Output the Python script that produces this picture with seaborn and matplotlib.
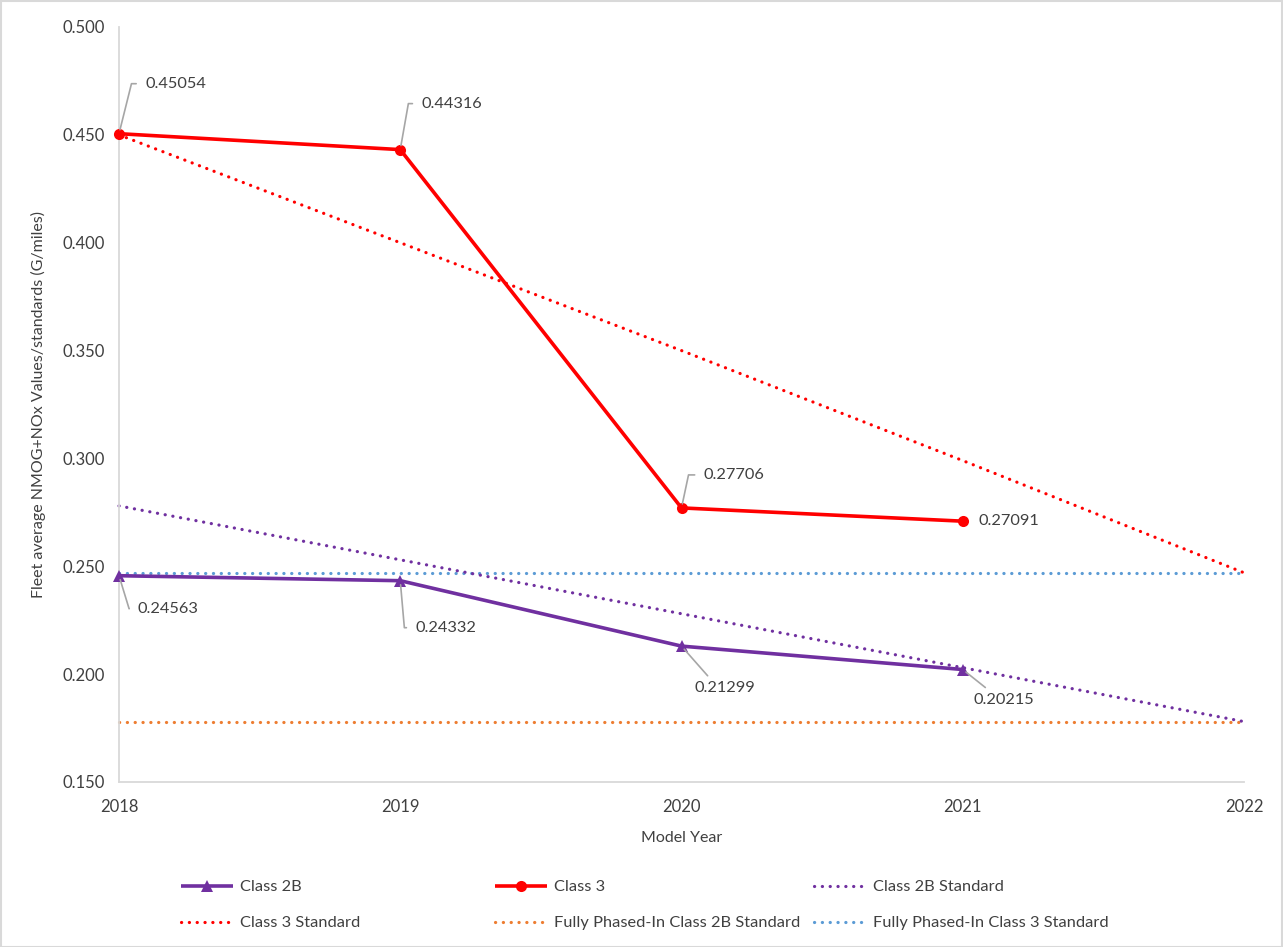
import numpy as np
import pandas as pd
import matplotlib
matplotlib.use("Agg")
import matplotlib.pyplot as plt
import seaborn as sns
from matplotlib.patches import Rectangle

# ---------------- data ----------------
years = [2018, 2019, 2020, 2021, 2022]
measured_years = [2018, 2019, 2020, 2021]
class_2b = [0.24563, 0.24332, 0.21299, 0.20215]
class_3 = [0.45054, 0.44316, 0.27706, 0.27091]
class_2b_std = [0.278, 0.253, 0.228, 0.203, 0.178]
class_3_std = [0.450, 0.400, 0.350, 0.299, 0.247]
full_2b_std = [0.178, 0.178, 0.178, 0.178, 0.178]
full_3_std = [0.247, 0.247, 0.247, 0.247, 0.247]
y_ticks = [0.150, 0.200, 0.250, 0.300, 0.350, 0.400, 0.450, 0.500]
x_tick_labels = ["2018", "2019", "2020", "2021", "2022"]

# ---------------- style ----------------
sns.set_style("white")
plt.rcParams["font.family"] = ["Lato", "DejaVu Sans"]
TXT = "#404040"
GRID = "#d9d9d9"
LEADER = "#a6a6a6"
PURPLE = "#7030a0"
RED = "#ff0000"
ORANGE = "#ed7d31"
BLUE = "#5b9bd5"
DOT = (0, (0.05, 2.4))

fig = plt.figure(figsize=(12.83, 9.47), dpi=100)
ax = fig.add_axes([119 / 1283, 1 - 782 / 947, (1244 - 119) / 1283, (782 - 27) / 947])

series = [
    ("Class 2B", measured_years, class_2b, dict(color=PURPLE, linewidth=2.6, marker="^", markersize=8, ls="-")),
    ("Class 3", measured_years, class_3, dict(color=RED, linewidth=2.6, marker="o", markersize=8, ls="-")),
    ("Class 2B Standard", years, class_2b_std, dict(color=PURPLE, linewidth=2.3, marker=None, ls=DOT)),
    ("Class 3 Standard", years, class_3_std, dict(color=RED, linewidth=2.3, marker=None, ls=DOT)),
    ("Fully Phased-In Class 2B Standard", years, full_2b_std, dict(color=ORANGE, linewidth=2.3, marker=None, ls=DOT)),
    ("Fully Phased-In Class 3 Standard", years, full_3_std, dict(color=BLUE, linewidth=2.3, marker=None, ls=DOT)),
]

# draw order: standards first, then measured series on top
draw_order = [5, 4, 2, 3, 0, 1]
handles = {}
for i in draw_order:
    name, xs, ys, st = series[i]
    df = pd.DataFrame({"year": xs, "value": ys})
    n_before = len(ax.lines)
    sns.lineplot(data=df, x="year", y="value", ax=ax, color=st["color"],
                 linewidth=st["linewidth"], marker=st["marker"],
                 markersize=st.get("markersize", 0), markeredgewidth=0,
                 label=name, legend=False, clip_on=False, zorder=3 if st["marker"] else 2)
    ln = ax.lines[n_before]
    ln.set_linestyle(st["ls"])
    ln.set_dash_capstyle("round")
    ln.set_solid_capstyle("butt")
    handles[name] = ln

# ---------------- data labels ----------------
# (dx, dy) offsets in pixels, leader type, leader angle at the point
label_layout_3 = [(26, 50, "elbow", 76), (21, 46, "elbow", 80), (22, 33, "elbow", 78), (16, 0, None, None)]
label_layout_2b = [(19, -33, "elbow", -73), (15, -47, "elbow", -85), (43, -42, "straight", None), (41, -30, "straight", None)]
LABEL_FS = 11.8

for xs, ys, layout in [(measured_years, class_3, label_layout_3), (measured_years, class_2b, label_layout_2b)]:
    for x, y, (dx, dy, kind, ang) in zip(xs, ys, layout):
        txt = f"{y:.5f}"
        if kind == "elbow":
            ax.annotate(txt, xy=(x, y), xytext=(dx, dy), textcoords="offset pixels",
                        ha="left", va="center", fontsize=LABEL_FS, color=TXT,
                        arrowprops=dict(arrowstyle="-", color=LEADER, lw=1.2,
                                        relpos=(0, 0.5), shrinkA=4, shrinkB=3,
                                        connectionstyle=f"angle,angleA=0,angleB={ang},rad=0"),
                        zorder=5)
        elif kind == "straight":
            ax.annotate(txt, xy=(x, y), xytext=(dx, dy), textcoords="offset pixels",
                        ha="center", va="center", fontsize=LABEL_FS, color=TXT,
                        arrowprops=dict(arrowstyle="-", color=LEADER, lw=1.2,
                                        relpos=(0.3, 1.0), shrinkA=2, shrinkB=3,
                                        connectionstyle="arc3,rad=0"),
                        zorder=5)
        else:
            ax.annotate(txt, xy=(x, y), xytext=(dx, dy), textcoords="offset pixels",
                        ha="left", va="center", fontsize=LABEL_FS, color=TXT, zorder=5)

# ---------------- axes ----------------
ax.set_xlim(years[0], years[-1])
ax.set_ylim(y_ticks[0], y_ticks[-1])
ax.set_xticks(years)
ax.set_xticklabels(x_tick_labels)
ax.set_yticks(y_ticks)
ax.set_yticklabels([f"{v:.3f}" for v in y_ticks])
for s in ["top", "right"]:
    ax.spines[s].set_visible(False)
for s in ["left", "bottom"]:
    ax.spines[s].set_color(GRID)
    ax.spines[s].set_linewidth(1.3)
ax.tick_params(axis="both", length=6, width=1.3, color=GRID, labelcolor=TXT, labelsize=12, direction="out")
ax.tick_params(axis="x", pad=6)
ax.tick_params(axis="y", pad=4)
ax.set_xlabel("Model Year", fontsize=11.5, color=TXT, labelpad=12)
ax.set_ylabel("Fleet average NMOG+NOx Values/standards (G/miles)", fontsize=11.5, color=TXT, labelpad=12)
ax.grid(False)

# ---------------- legend (3 columns) ----------------
col_x = [181, 495, 814]
columns = [["Class 2B", "Class 3 Standard"],
           ["Class 3", "Fully Phased-In Class 2B Standard"],
           ["Class 2B Standard", "Fully Phased-In Class 3 Standard"]]
for cx, names in zip(col_x, columns):
    leg = fig.legend([handles[n] for n in names], names, loc="upper left",
                     bbox_to_anchor=(cx / 1283, 1 - 880 / 947), frameon=False,
                     fontsize=11.8, handlelength=3.2, handletextpad=0.4,
                     labelspacing=1.3, borderpad=0, borderaxespad=0)
    for t in leg.get_texts():
        t.set_color(TXT)

# figure border
fig.add_artist(Rectangle((0.5 / 1283, 0.5 / 947), 1 - 1.5 / 1283, 1 - 1.5 / 947,
                         transform=fig.transFigure, fill=False, ec=GRID, lw=1.5))

fig.savefig("out.png", dpi=100)
